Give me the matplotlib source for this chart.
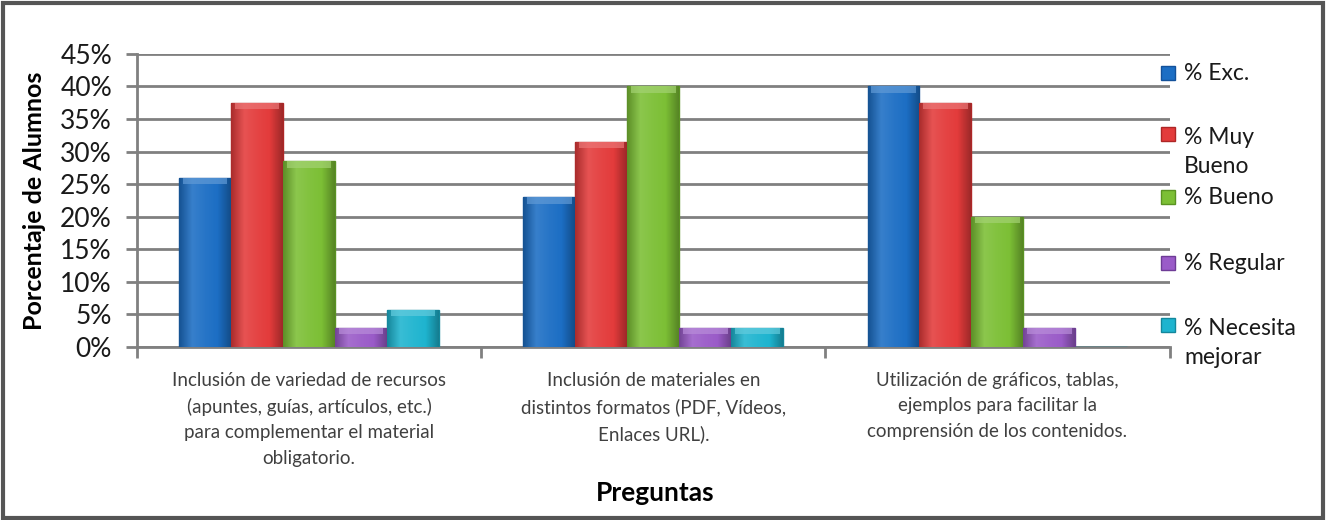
import matplotlib
matplotlib.use("Agg")
import matplotlib.pyplot as plt
import numpy as np
from matplotlib.patches import Rectangle
from matplotlib.ticker import FuncFormatter, FixedLocator
from matplotlib.colors import LinearSegmentedColormap, to_rgb

plt.rcParams['font.family'] = ['Lato', 'DejaVu Sans']

categories = [
    "Inclusión de variedad de recursos\n(apuntes, guías, artículos, etc.)\npara complementar el material\nobligatorio.",
    "Inclusión de materiales en\ndistintos formatos (PDF, Vídeos,\nEnlaces URL).",
    "Utilización de gráficos, tablas,\nejemplos para facilitar la\ncomprensión de los contenidos.",
]
series_names = ["% Exc.", "% Muy\nBueno", "% Bueno", "% Regular", "% Necesita\nmejorar"]
exc = [26.0, 23.0, 40.0]
muy_bueno = [37.5, 31.5, 37.5]
bueno = [28.5, 40.0, 20.0]
regular = [2.9, 2.9, 2.9]
necesita = [5.7, 2.9, 0.0]
yticks = [0, 5, 10, 15, 20, 25, 30, 35, 40, 45]

series = [exc, muy_bueno, bueno, regular, necesita]
colors = ["#1C6EC4", "#E33B3B", "#7CBF35", "#9A5BC8", "#1EB4CF"]
edges = ["#13519A", "#AE2626", "#5A9322", "#6E3C96", "#14879C"]


def shade(c, f):
    r = np.array(to_rgb(c))
    if f >= 0:
        return tuple(r + (1 - r) * f)
    return tuple(r * (1 + f))


fig = plt.figure(figsize=(13.26, 5.2), dpi=100)
ax = fig.add_axes([0.1033, 0.3327, 0.7787, 0.5636])

x = np.arange(len(categories))
bw = 0.151
grad = np.linspace(0, 1, 64).reshape(1, -1)
for i, (vals, c, e) in enumerate(zip(series, colors, edges)):
    off = (i - 2) * bw
    bars = ax.bar(x + off, vals, width=bw, color=c, edgecolor=e, linewidth=1.0, zorder=3)
    cmap = LinearSegmentedColormap.from_list(
        f"g{i}", [shade(c, -0.25), shade(c, 0.12), shade(c, 0.05), c, shade(c, -0.3)])
    for b in bars:
        h = b.get_height()
        if h <= 0:
            continue
        x0 = b.get_x()
        im = ax.imshow(grad, extent=[x0, x0 + bw, 0, h], aspect='auto', cmap=cmap,
                       zorder=3.5, interpolation='bilinear')
        im.set_clip_path(b)
        # top bevel highlight
        ax.bar(x0 + bw / 2, min(1.0, h * 0.3), bottom=h - min(1.0, h * 0.3), width=bw * 0.86,
               color=shade(c, 0.3), linewidth=0, zorder=4, alpha=0.7)

ax.set_xlim(-0.5, 2.5)
ax.set_ylim(0, 45)
ax.yaxis.set_major_locator(FixedLocator(yticks))
ax.yaxis.set_major_formatter(FuncFormatter(lambda v, p: f"{int(v)}%"))
ax.grid(axis='y', color='#808080', linewidth=2, zorder=0)
ax.set_axisbelow(True)
for s in ['top', 'right']:
    ax.spines[s].set_visible(False)
ax.spines['left'].set_color('#808080')
ax.spines['left'].set_linewidth(2)
ax.spines['bottom'].set_color('#808080')
ax.spines['bottom'].set_linewidth(2)
ax.tick_params(axis='y', length=8, width=2, color='#808080', labelsize=19, pad=10, labelcolor='#1a1a1a')

# category ticks at boundaries
ax.set_xticks([-0.5, 0.5, 1.5, 2.5])
ax.set_xticklabels([])
ax.tick_params(axis='x', length=8, width=2, color='#808080')
ax.set_xticks(x, minor=True)
ax.set_xticklabels(categories, minor=True, fontsize=13.5, color='#404040', linespacing=1.6)
ax.tick_params(axis='x', which='minor', length=0, pad=18)

ax.set_ylabel("Porcentaje de Alumnos", fontsize=18, fontweight='bold', labelpad=10)
fig.text(0.494, 0.052, "Preguntas", fontsize=19, fontweight='bold', ha='center', va='center')

# legend (manual placement)
leg_y = [73, 152, 197, 263, 343]
for name, c, e, yy in zip(series_names, colors, edges, leg_y):
    ys = 1 - yy / 520
    nlines = name.count("\n") + 1
    sq_y = ys + (nlines - 1) * 0.5 * 37 / 520
    fig.patches.append(Rectangle((1161 / 1326, sq_y - 7 / 520), 14 / 1326, 14 / 520,
                                 transform=fig.transFigure, facecolor=c, edgecolor=e, linewidth=1))
    fig.text(1184 / 1326, ys, name, fontsize=16.5, ha='left', va='center', linespacing=1.45, color='#1a1a1a')

# outer border
fig.patches.append(Rectangle((0.002, 0.004), 0.996, 0.99, transform=fig.transFigure,
                             fill=False, edgecolor='#555555', linewidth=3))

fig.savefig("out.png", dpi=100)
